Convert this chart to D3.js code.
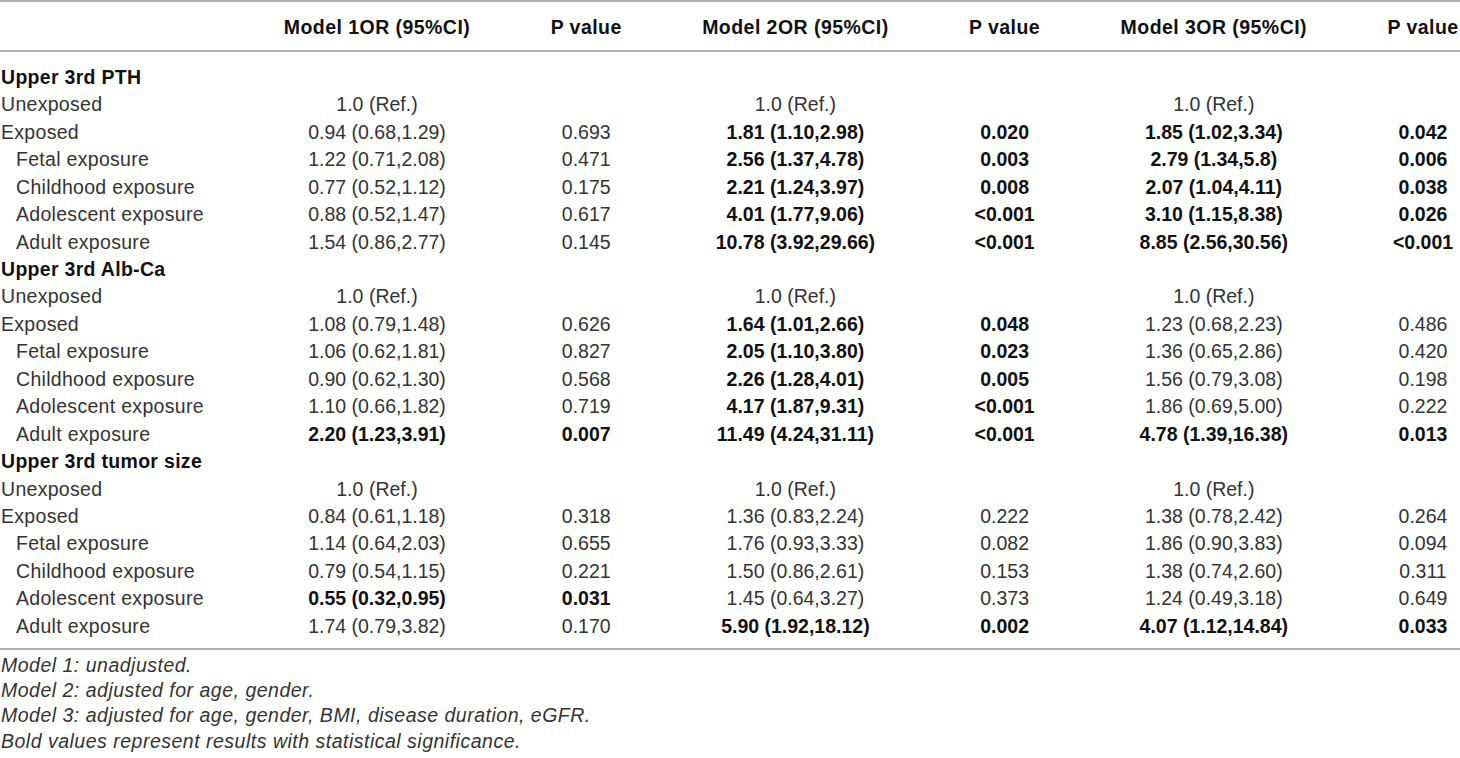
<!DOCTYPE html>
<html>
<head>
<meta charset="utf-8">
<script src="https://cdn.jsdelivr.net/npm/d3@7"></script>
<style>
  body { margin: 0; background: #fff; }
  svg { display: block; font-family: "Liberation Sans", Arial, sans-serif; }
</style>
</head>
<body>
<svg id="table" width="1460" height="758"></svg>
<script>
// column headers
const headers = ["", "Model 1OR (95%CI)", "P value", "Model 2OR (95%CI)", "P value", "Model 3OR (95%CI)", "P value"];

const groups = ["Upper 3rd PTH", "Upper 3rd Alb-Ca", "Upper 3rd tumor size"];
const rowLabels = ["Unexposed", "Exposed", "Fetal exposure", "Childhood exposure", "Adolescent exposure", "Adult exposure"];
const indented = [false, false, true, true, true, true];

// one array per model and group, first entry is the reference row
const m1OR = [
  ["1.0 (Ref.)", "0.94 (0.68,1.29)", "1.22 (0.71,2.08)", "0.77 (0.52,1.12)", "0.88 (0.52,1.47)", "1.54 (0.86,2.77)"],
  ["1.0 (Ref.)", "1.08 (0.79,1.48)", "1.06 (0.62,1.81)", "0.90 (0.62,1.30)", "1.10 (0.66,1.82)", "2.20 (1.23,3.91)"],
  ["1.0 (Ref.)", "0.84 (0.61,1.18)", "1.14 (0.64,2.03)", "0.79 (0.54,1.15)", "0.55 (0.32,0.95)", "1.74 (0.79,3.82)"]
];
const m1P = [
  ["", "0.693", "0.471", "0.175", "0.617", "0.145"],
  ["", "0.626", "0.827", "0.568", "0.719", "0.007"],
  ["", "0.318", "0.655", "0.221", "0.031", "0.170"]
];
const m2OR = [
  ["1.0 (Ref.)", "1.81 (1.10,2.98)", "2.56 (1.37,4.78)", "2.21 (1.24,3.97)", "4.01 (1.77,9.06)", "10.78 (3.92,29.66)"],
  ["1.0 (Ref.)", "1.64 (1.01,2.66)", "2.05 (1.10,3.80)", "2.26 (1.28,4.01)", "4.17 (1.87,9.31)", "11.49 (4.24,31.11)"],
  ["1.0 (Ref.)", "1.36 (0.83,2.24)", "1.76 (0.93,3.33)", "1.50 (0.86,2.61)", "1.45 (0.64,3.27)", "5.90 (1.92,18.12)"]
];
const m2P = [
  ["", "0.020", "0.003", "0.008", "<0.001", "<0.001"],
  ["", "0.048", "0.023", "0.005", "<0.001", "<0.001"],
  ["", "0.222", "0.082", "0.153", "0.373", "0.002"]
];
const m3OR = [
  ["1.0 (Ref.)", "1.85 (1.02,3.34)", "2.79 (1.34,5.8)", "2.07 (1.04,4.11)", "3.10 (1.15,8.38)", "8.85 (2.56,30.56)"],
  ["1.0 (Ref.)", "1.23 (0.68,2.23)", "1.36 (0.65,2.86)", "1.56 (0.79,3.08)", "1.86 (0.69,5.00)", "4.78 (1.39,16.38)"],
  ["1.0 (Ref.)", "1.38 (0.78,2.42)", "1.86 (0.90,3.83)", "1.38 (0.74,2.60)", "1.24 (0.49,3.18)", "4.07 (1.12,14.84)"]
];
const m3P = [
  ["", "0.042", "0.006", "0.038", "0.026", "<0.001"],
  ["", "0.486", "0.420", "0.198", "0.222", "0.013"],
  ["", "0.264", "0.094", "0.311", "0.649", "0.033"]
];
// significant cells (bold), per model
const m1Bold = [
  [0, 0, 0, 0, 0, 0],
  [0, 0, 0, 0, 0, 1],
  [0, 0, 0, 0, 1, 0]
];
const m2Bold = [
  [0, 1, 1, 1, 1, 1],
  [0, 1, 1, 1, 1, 1],
  [0, 0, 0, 0, 0, 1]
];
const m3Bold = [
  [0, 1, 1, 1, 1, 1],
  [0, 0, 0, 0, 0, 1],
  [0, 0, 0, 0, 0, 1]
];

const footnotes = [
  "Model 1: unadjusted.",
  "Model 2: adjusted for age, gender.",
  "Model 3: adjusted for age, gender, BMI, disease duration, eGFR.",
  "Bold values represent results with statistical significance."
];

// build flat row list
const rows = [];
groups.forEach((g, gi) => {
  rows.push({ type: "group", label: g });
  rowLabels.forEach((lab, ri) => {
    rows.push({
      type: "row", label: lab, indent: indented[ri],
      cells: [
        { t: m1OR[gi][ri], b: m1Bold[gi][ri] }, { t: m1P[gi][ri], b: m1Bold[gi][ri] },
        { t: m2OR[gi][ri], b: m2Bold[gi][ri] }, { t: m2P[gi][ri], b: m2Bold[gi][ri] },
        { t: m3OR[gi][ri], b: m3Bold[gi][ri] }, { t: m3P[gi][ri], b: m3Bold[gi][ri] }
      ]
    });
  });
});

const width = 1460,
    fontSize = 19.5,
    lineColor = "#999",
    textColor = "#333";

const svg = d3.select("#table");

// column centres for the 6 value columns
const colX = d3.scalePoint()
    .domain(d3.range(6))
    .range([377, 1423]);

const rowY = d3.scaleLinear()
    .domain([0, rows.length - 1])
    .range([77, 626]);

const noteY = d3.scaleLinear()
    .domain([0, footnotes.length - 1])
    .range([665, 741]);

// rules
[1, 51, 649].forEach(y => {
  svg.append("line")
      .attr("x1", 0).attr("x2", width)
      .attr("y1", y).attr("y2", y)
      .attr("stroke", lineColor)
      .attr("stroke-width", 1.5);
});

// header
svg.append("g").selectAll("text")
    .data(headers.slice(1))
    .enter().append("text")
        .attr("x", (d, i) => colX(i))
        .attr("y", 27)
        .attr("dy", "0.35em")
        .attr("text-anchor", "middle")
        .attr("font-size", fontSize)
        .attr("font-weight", "bold")
        .attr("letter-spacing", "0.45px")
        .attr("fill", "#111")
        .text(d => d);

// body rows
const rowG = svg.append("g").selectAll("g")
    .data(rows)
    .enter().append("g")
        .attr("transform", (d, i) => `translate(0,${rowY(i)})`);

rowG.append("text")
    .attr("x", d => d.type === "row" && d.indent ? 16 : 1)
    .attr("dy", "0.35em")
    .attr("font-size", fontSize)
    .attr("font-weight", d => d.type === "group" ? "bold" : "normal")
    .attr("letter-spacing", d => d.type === "group" ? "0.3px" : "0.3px")
    .attr("fill", d => d.type === "group" ? "#111" : textColor)
    .text(d => d.label);

rowG.filter(d => d.type === "row")
    .selectAll("text.cell")
    .data(d => d.cells)
    .enter().append("text")
        .attr("class", "cell")
        .attr("x", (d, i) => colX(i))
        .attr("dy", "0.35em")
        .attr("text-anchor", "middle")
        .attr("font-size", fontSize)
        .attr("font-weight", d => d.b ? "bold" : "normal")
        .attr("fill", d => d.b ? "#111" : textColor)
        .text(d => d.t);

// footnotes
svg.append("g").selectAll("text")
    .data(footnotes)
    .enter().append("text")
        .attr("x", 1)
        .attr("y", (d, i) => noteY(i))
        .attr("dy", "0.35em")
        .attr("font-size", fontSize)
        .attr("font-style", "italic")
        .attr("letter-spacing", "0.5px")
        .attr("fill", textColor)
        .text(d => d);
</script>
</body>
</html>
